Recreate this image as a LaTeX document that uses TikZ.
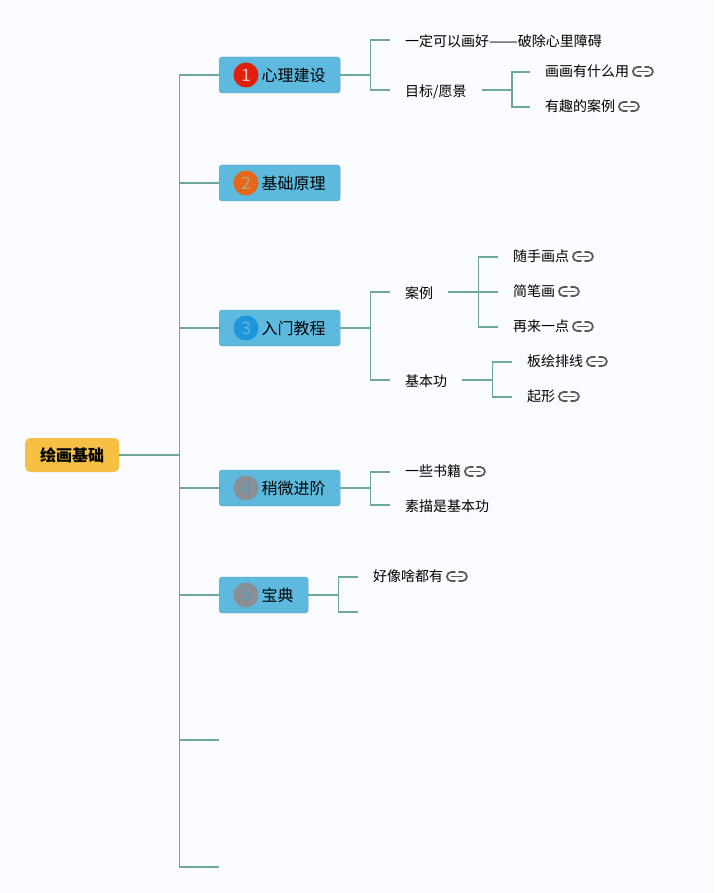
\documentclass[tikz,border=0pt]{standalone}
\usepackage{fontspec}
\setmainfont{Noto Sans CJK SC}
\usetikzlibrary{positioning}
\definecolor{pagebg}{HTML}{FAFBFF}
\definecolor{linkteal}{HTML}{6FA89B}
\definecolor{boxblue}{HTML}{5DB9DD}
\definecolor{boxedge}{HTML}{5FA3B5}
\definecolor{rootyellow}{HTML}{F5C044}
\tikzset{
    rootbox/.style={draw=none, fill=rootyellow, rounded corners=5pt, anchor=west, inner xsep=15pt, minimum height=34pt, font=\fontsize{16pt}{18pt}\selectfont\bfseries},
    branchbox/.style={draw=boxedge, fill=boxblue, rounded corners=3pt, anchor=west, inner xsep=14.5pt, minimum height=36pt, font=\fontsize{16pt}{18pt}\selectfont},
    leafbox/.style={anchor=west, inner xsep=15pt, inner ysep=0pt, text height=13.6pt, text depth=1pt, font=\fontsize{14pt}{16pt}\selectfont},
    linkleaf/.style={leafbox, text height=11pt, text depth=2.4pt},
    numdot/.style={circle, minimum size=25pt, inner sep=0pt, font=\fontsize{17pt}{18pt}\selectfont},
    wire/.style={draw=linkteal, line width=1.3pt},
    linkicon/.pic={
        \draw[rounded corners=4.5pt, draw=black!65, line width=1.7pt, line cap=round] (-2,-4.5) -| (-10,4.5) -- (-2,4.5);
        \draw[rounded corners=4.5pt, draw=black!65, line width=1.7pt, line cap=round] (2,-4.5) -| (10,4.5) -- (2,4.5);
        \draw[draw=black!65, line width=1.7pt, line cap=round] (-5,0) -- (5,0);
    },
}
\newcommand{\dotgap}{\hspace*{28pt}}

\begin{document}
\begin{tikzpicture}[x=1pt, y=-1pt]
\useasboundingbox (0,0) rectangle (714,893);
\fill[pagebg] (0,0) rectangle (714,893);

\node[rootbox] (root) at (25,455) {绘画基础};

\node[branchbox] (heart) at (219,75) {\dotgap 心理建设};
\node[branchbox] (basis) at (219,183) {\dotgap 基础原理};
\node[branchbox] (intro) at (219,328) {\dotgap 入门教程};
\node[branchbox] (adv) at (219,488) {\dotgap 稍微进阶};
\node[branchbox] (bible) at (219,595) {\dotgap 宝典};
\coordinate (blank1) at (219,740);
\coordinate (blank2) at (219,867);

\node[numdot, fill={rgb,255:red,224;green,32;blue,10}, text=white!75!red] (n1) at ([xshift=27]heart.west) {1};
\node[numdot, fill={rgb,255:red,228;green,103;blue,26}, text={rgb,255:red,181;green,169;blue,140}] (n2) at ([xshift=27]basis.west) {2};
\node[numdot, fill={rgb,255:red,30;green,150;blue,220}, text=boxblue] (n3) at ([xshift=27]intro.west) {3};
\node[numdot, fill={rgb,255:red,138;green,143;blue,150}, text=boxblue!85!black] (n4) at ([xshift=27]adv.west) {4};
\node[numdot, fill={rgb,255:red,138;green,143;blue,150}, text=boxblue!85!black] (n5) at ([xshift=27]bible.west) {5};

\node[leafbox] (sure) at (390,40) {一定可以画好\scalebox{1.22}[1]{——}破除心里障碍};
\node[leafbox] (goal) at (390,90) {目标/愿景};
\node[linkleaf] (use) at (530,72) {画画有什么用};
\node[linkleaf] (fun) at (530,107) {有趣的案例};

\node[leafbox] (case) at (390,292) {案例};
\node[leafbox] (skill) at (390,380) {基本功};
\node[linkleaf] (dots) at (498,257) {随手画点};
\node[linkleaf] (sketch) at (498,292) {简笔画};
\node[linkleaf] (more) at (498,327) {再来一点};
\node[linkleaf] (lines) at (512,362) {板绘排线};
\node[linkleaf] (shape) at (512,397) {起形};

\node[linkleaf] (books) at (390,472) {一些书籍};
\node[leafbox] (draft) at (390,505) {素描是基本功};
\node[linkleaf] (all) at (358,577) {好像啥都有};
\coordinate (blank3) at (358,612);

\foreach \n in {use,fun,dots,sketch,more,lines,shape,books,all}
    \pic at ([xshift=-1.5pt, yshift=0.5pt]\n.east) {linkicon};

\draw[wire, line width=1.8pt] (root.east) -- ++(60,0) coordinate (trunk);
\foreach \b in {heart,basis,intro,adv,bible,blank1,blank2}
    \draw[wire] (trunk) |- (\b);

\foreach \f/\t in {heart/sure,heart/goal,goal/use,goal/fun,intro/case,intro/skill,case/dots,case/more,skill/lines,skill/shape,adv/books,adv/draft}
    \draw[wire] (\f.east) -- ++(30,0) |- (\t.west);
\draw[wire] (case.east) -- (sketch.west);
\draw[wire] (bible.east) -- ++(30,0) |- (all.west);
\draw[wire] (bible.east) -- ++(30,0) |- (blank3);
\end{tikzpicture}
\end{document}
